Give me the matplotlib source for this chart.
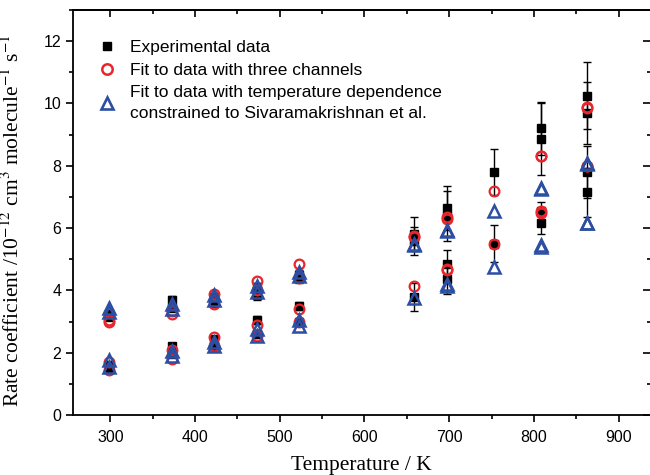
import numpy as np
import matplotlib
matplotlib.use("Agg")
import matplotlib.pyplot as plt
from matplotlib.lines import Line2D
from matplotlib.ticker import MultipleLocator

# -------------------------
# Data
# -------------------------

temps = [298] * 4 + [373] * 4 + [423] * 4 + [473] * 4 + [523] * 4 \
    + [658] * 3 + [698] * 4 + [753] * 2 + [808] * 4 + [863] * 4

k_exp = [3.25, 3.15, 1.60, 1.50,
         3.70, 3.45, 2.20, 1.95,
         3.80, 3.60, 2.45, 2.20,
         3.85, 4.10, 3.05, 2.60,
         4.50, 4.40, 3.50, 3.00,
         5.80, 5.60, 3.80,
         6.65, 6.40, 4.85, 4.35,
         7.80, 5.50,
         9.20, 8.85, 6.55, 6.15,
         10.25, 9.70, 7.80, 7.15]

k_err = [0.10, 0.10, 0.08, 0.08,
         0.12, 0.12, 0.10, 0.10,
         0.12, 0.12, 0.10, 0.10,
         0.15, 0.15, 0.12, 0.12,
         0.15, 0.15, 0.12, 0.12,
         0.55, 0.45, 0.45,
         0.70, 0.80, 0.45, 0.45,
         0.75, 0.60,
         0.85, 1.15, 0.30, 0.35,
         1.08, 1.00, 0.85, 0.78]

k_three = [3.00, 3.05, 1.70, 1.45,
           3.25, 3.35, 2.10, 1.80,
           3.90, 3.55, 2.50, 2.20,
           4.30, 4.00, 2.90, 2.55,
           4.85, 4.40, 3.40, 3.00,
           5.75, 5.70, 4.15,
           6.30, 6.35, 4.65, 4.70,
           7.20, 5.50,
           8.30, 8.30, 6.55, 6.50,
           9.87, 9.90, 8.00, 8.00]

k_sivar = [3.45, 3.30, 1.75, 1.55,
           3.55, 3.40, 2.05, 1.90,
           3.85, 3.70, 2.35, 2.20,
           4.15, 3.95, 2.75, 2.55,
           4.60, 4.45, 3.05, 2.85,
           5.45, 5.50, 3.75,
           5.95, 5.90, 4.20, 4.15,
           6.55, 4.75,
           7.30, 7.25, 5.45, 5.40,
           8.10, 8.05, 6.15, 6.15]

labels = [
    "Experimental data",
    "Fit to data with three channels",
    "Fit to data with temperature dependence\nconstrained to Sivaramakrishnan et al.",
]

RED = "#e8262b"
BLUE = "#2c4ea3"

# -------------------------
# Plot
# -------------------------

plt.rcParams["font.family"] = ["Liberation Sans", "DejaVu Sans"]
plt.rcParams["mathtext.fontset"] = "stix"

fig = plt.figure(figsize=(6.5, 4.75), dpi=100)
ax = fig.add_axes([73 / 650, 60 / 475, 577 / 650, 405 / 475])

ax.errorbar(temps, k_exp, yerr=k_err, fmt="s", color="black", ms=5.5,
            ecolor="black", elinewidth=1.0, capsize=3, capthick=1.0, zorder=2)
ax.plot(temps, k_three, "o", ms=7, mfc="none", mec=RED, mew=1.6, zorder=3)
ax.plot(temps, k_sivar, "^", ms=8, mfc="none", mec=BLUE, mew=1.8, zorder=4)

ax.set_xlim(256, 937)
ax.set_ylim(0, 13)

ax.xaxis.set_major_locator(MultipleLocator(100))
ax.xaxis.set_minor_locator(MultipleLocator(50))
ax.yaxis.set_major_locator(MultipleLocator(2))
ax.yaxis.set_minor_locator(MultipleLocator(1))

ax.tick_params(which="both", direction="out", labelsize=11.5, width=1.2)
ax.tick_params(which="major", length=5)
ax.tick_params(which="minor", length=3)
ax.tick_params(axis="x", pad=6)

for side in ["left", "bottom", "top"]:
    ax.spines[side].set_linewidth(1.3)
ax.spines["right"].set_visible(False)

top = ax.secondary_xaxis("top")
top.xaxis.set_major_locator(MultipleLocator(100))
top.xaxis.set_minor_locator(MultipleLocator(50))
top.tick_params(which="both", direction="in", labeltop=False, width=1.2)
top.tick_params(which="major", length=5)
top.tick_params(which="minor", length=3)
top.spines["top"].set_linewidth(1.3)

right = ax.secondary_yaxis("right")
right.yaxis.set_major_locator(MultipleLocator(2))
right.yaxis.set_minor_locator(MultipleLocator(1))
right.tick_params(which="both", direction="in", labelright=False, width=1.2)
right.tick_params(which="major", length=5)
right.tick_params(which="minor", length=2)
right.spines["right"].set_visible(False)

ax.set_xlabel("Temperature / K", family=["Liberation Serif"], fontsize=15.5, labelpad=8)
ax.set_ylabel(r"Rate coefficient /10$^{-12}$ cm$^{3}$ molecule$^{-1}$ s$^{-1}$",
              family=["Liberation Serif"], fontsize=15.5)
ax.yaxis.set_label_coords(-0.085, 0.48)

# legend: plain markers, no error bars
handles = [
    Line2D([], [], ls="none", marker="s", color="black", ms=6),
    Line2D([], [], ls="none", marker="o", mfc="none", mec=RED, mew=1.8, ms=7.5),
    Line2D([], [], ls="none", marker="^", mfc="none", mec=BLUE, mew=1.9, ms=8.5),
]
leg = ax.legend(handles, labels, loc="upper left", bbox_to_anchor=(96 / 650, 1 - 40 / 475),
                bbox_transform=fig.transFigure, frameon=False, fontsize=12.5,
                handletextpad=0.65, labelspacing=0.42, handlelength=1.3, borderaxespad=0,
                borderpad=0)
for t in leg.get_texts():
    t.set_linespacing(1.55)

fig.savefig("out.png", dpi=100)
